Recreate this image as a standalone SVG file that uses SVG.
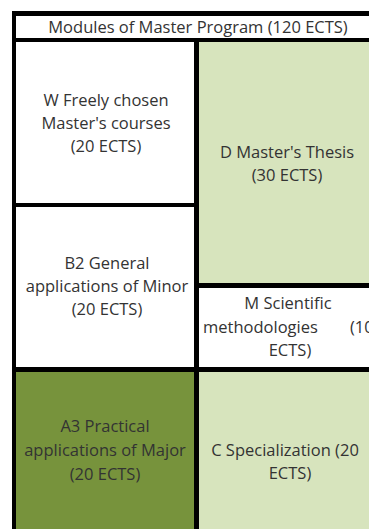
<svg xmlns="http://www.w3.org/2000/svg" width="369" height="529" viewBox="0 0 369 529">
<style>
text{font-family:"Open Sans","Noto Sans",sans-serif;font-size:16.5px;fill:#333333;text-anchor:middle}
.w{fill:#ffffff}.lg{fill:#d7e4bd}.dg{fill:#77933c}
</style>
<rect x="0" y="0" width="369" height="529" fill="#ffffff"/>
<rect x="12" y="11" width="357" height="518" fill="#000000"/>
<g id="title"><rect class="w" x="16" y="16" width="353" height="22"/><text x="198" y="33">Modules of Master Program (120 ECTS)</text></g>
<g id="W"><rect class="w" x="16" y="42" width="178" height="161"/><text x="106" y="106">W  Freely chosen</text><text x="106" y="129">Master's courses</text><text x="106" y="152">(20 ECTS)</text></g>
<g id="D"><rect class="lg" x="199" y="42" width="170" height="241"/><text x="287" y="158">D Master's Thesis</text><text x="287" y="181">(30 ECTS)</text></g>
<g id="B2"><rect class="w" x="16" y="207" width="178" height="160"/><text x="107" y="269">B2 General</text><text x="107" y="292">applications of Minor</text><text x="107" y="315">(20 ECTS)</text></g>
<g id="M"><rect class="w" x="199" y="288" width="170" height="79"/><text x="288" y="309">M Scientific</text><text x="203" y="333" style="text-anchor:start">methodologies</text><text x="350" y="333" style="text-anchor:start">(10</text><text x="290" y="356">ECTS)</text></g>
<g id="A3"><rect class="dg" x="16" y="372" width="178" height="157"/><text x="105" y="432">A3 Practical</text><text x="105" y="456">applications of Major</text><text x="105" y="480">(20 ECTS)</text></g>
<g id="C"><rect class="lg" x="199" y="372" width="170" height="157"/><text x="285" y="456">C Specialization (20</text><text x="290" y="479">ECTS)</text></g>
<g id="connectors"/>
</svg>
